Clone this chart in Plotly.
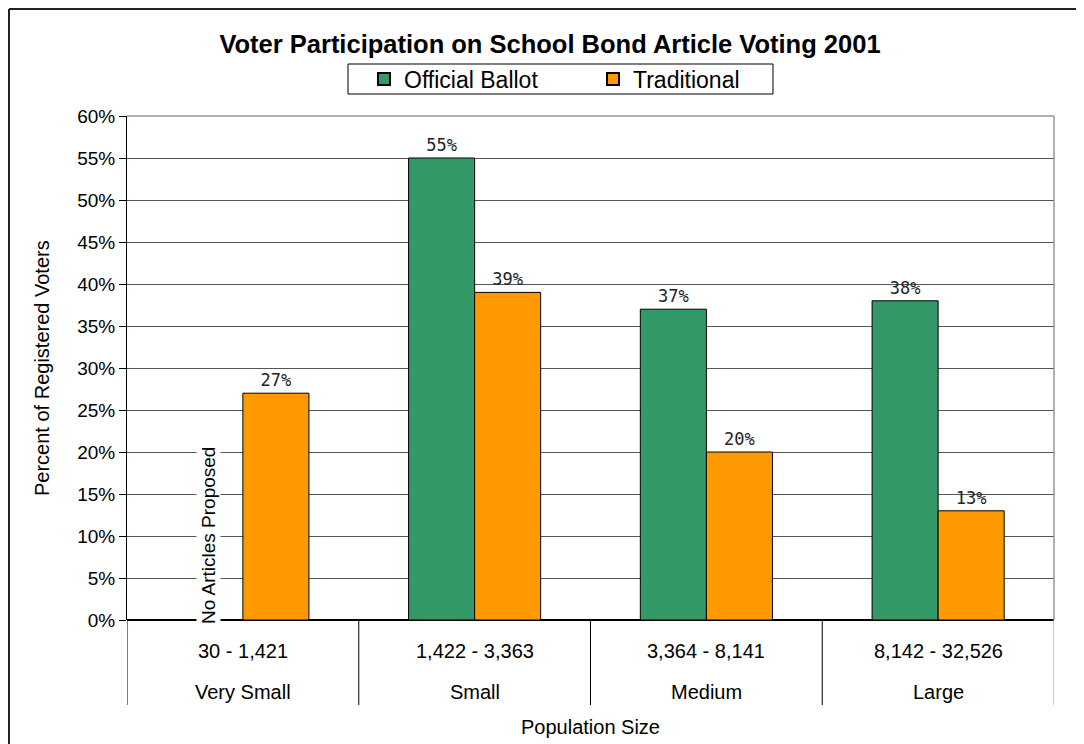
import plotly.graph_objects as go

size_labels = ["Very Small", "Small", "Medium", "Large"]
range_labels = ["30 - 1,421", "1,422 - 3,363", "3,364 - 8,141", "8,142 - 32,526"]
official_ballot = [None, 55, 37, 38]
traditional = [27, 39, 20, 13]
y_ticks = list(range(0, 61, 5))

W, H = 1084, 744
OFF = 8  # page body margin
L, R, T, B = 127 - OFF, 1054 - OFF, 116 - OFF, 620 - OFF

def px(x):
    return (x - OFF - L) / (R - L)

def py(y):
    return (B - (y - OFF)) / (B - T)

GREEN = "#339966"
ORANGE = "#FF9900"
FONT = "Liberation Sans, Arial, sans-serif"

def lab(vals):
    return [None if v is None else f"{v}%" for v in vals]

fig = go.Figure()
fig.add_trace(go.Bar(
    name="Official Ballot", x=size_labels, y=official_ballot,
    marker=dict(color=GREEN, line=dict(color="black", width=1)),
    text=lab(official_ballot), textposition="outside", cliponaxis=False,
    textfont=dict(family="DejaVu Sans Mono, monospace", size=17, color="#222"),
))
fig.add_trace(go.Bar(
    name="Traditional", x=size_labels, y=traditional,
    marker=dict(color=ORANGE, line=dict(color="black", width=1)),
    text=lab(traditional), textposition="outside", cliponaxis=False,
    textfont=dict(family="DejaVu Sans Mono, monospace", size=17, color="#222"),
))

n = len(size_labels)
shapes = []
for i in range(n + 1):
    shapes.append(dict(type="line", xref="x", yref="paper",
                       x0=i - 0.5, x1=i - 0.5, y0=py(705), y1=0,
                       line=dict(color="black" if i < n else "#999", width=1)))
shapes.append(dict(type="line", xref="paper", yref="paper", x0=0, x1=1, y0=1, y1=1,
                   line=dict(color="#999", width=1.5)))
shapes.append(dict(type="line", xref="paper", yref="paper", x0=1, x1=1, y0=0, y1=1,
                   line=dict(color="#999", width=1.5)))
# outer frame (top and left visible) - as close to the page corner as the figure allows
shapes.append(dict(type="line", xref="paper", yref="paper", x0=px(OFF + 1), x1=px(1100), y0=py(OFF + 1), y1=py(OFF + 1),
                   line=dict(color="#222", width=2)))
shapes.append(dict(type="line", xref="paper", yref="paper", x0=px(OFF + 1), x1=px(OFF + 1), y0=py(OFF + 1), y1=py(760),
                   line=dict(color="#222", width=2)))
# legend frame
shapes.append(dict(type="rect", xref="paper", yref="paper", x0=px(348), x1=px(773), y0=py(64), y1=py(94),
                   line=dict(color="black", width=1), fillcolor="rgba(0,0,0,0)"))

annotations = []
for i in range(n):
    annotations.append(dict(x=size_labels[i], xref="x", y=py(651), yref="paper",
                            text=range_labels[i], showarrow=False,
                            font=dict(family=FONT, size=20, color="black"),
                            xanchor="center", yanchor="middle"))
    annotations.append(dict(x=size_labels[i], xref="x", y=py(692), yref="paper",
                            text=size_labels[i], showarrow=False,
                            font=dict(family=FONT, size=20, color="black"),
                            xanchor="center", yanchor="middle"))
annotations.append(dict(x=px(590), xref="paper", y=py(727), yref="paper",
                        text="Population Size", showarrow=False,
                        font=dict(family=FONT, size=20, color="black"),
                        xanchor="center", yanchor="middle"))
annotations.append(dict(x=px(42), xref="paper", y=py(368), yref="paper",
                        text="Percent of Registered Voters", showarrow=False, textangle=-90,
                        font=dict(family=FONT, size=20, color="black"),
                        xanchor="center", yanchor="middle"))
annotations.append(dict(x=px(208), xref="paper", y=py(536), yref="paper",
                        text="No Articles Proposed", showarrow=False, textangle=-90,
                        bgcolor="white",
                        font=dict(family=FONT, size=19, color="black"),
                        xanchor="center", yanchor="middle"))

fig.update_layout(
    width=W, height=H,
    margin=dict(l=L, r=W - R, t=T, b=H - B, pad=0),
    paper_bgcolor="white", plot_bgcolor="white",
    barmode="group", bargap=0.43, bargroupgap=0,
    title=dict(text="<b>Voter Participation on School Bond Article Voting 2001</b>",
               x=(550 - OFF) / W, xanchor="center", y=1 - (44 - OFF) / H, yanchor="middle",
               xref="container", yref="container",
               font=dict(family=FONT, size=25.5, color="black")),
    legend=dict(orientation="h", x=px(364), xanchor="left", y=py(79), yanchor="middle",
                borderwidth=0, bgcolor="rgba(0,0,0,0)",
                font=dict(family=FONT, size=23, color="black"),
                entrywidth=184, itemsizing="constant"),
    xaxis=dict(showticklabels=False, showgrid=False, zeroline=False, showline=False,
               range=[-0.5, n - 0.5], fixedrange=True),
    yaxis=dict(range=[0, 60], tickvals=y_ticks, ticktext=[f"{v}%" for v in y_ticks],
               showgrid=True, gridcolor="#555", gridwidth=1,
               showline=True, linecolor="black", linewidth=1,
               ticks="outside", ticklen=7, tickcolor="black",
               zeroline=True, zerolinecolor="black", zerolinewidth=1.5,
               tickfont=dict(family=FONT, size=19, color="black")),
    shapes=shapes, annotations=annotations,
    showlegend=True,
)

fig.write_html("out.html")
